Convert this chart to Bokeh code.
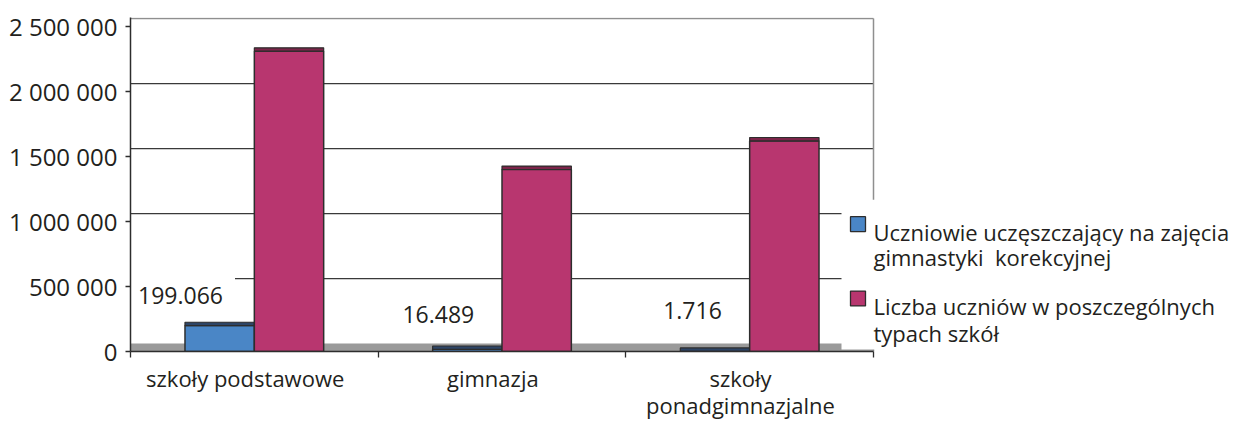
from bokeh.plotting import figure
from bokeh.models import Range1d, FixedTicker, Label
from bokeh.core.properties import value
from bokeh.embed import file_html
from bokeh.resources import INLINE

# ---- data ----
categories = ["szkoły podstawowe", "gimnazja", "szkoły\nponadgimnazjalne"]
korekcyjna = [199066, 16489, 1716]
liczba_uczniow = [2310000, 1400000, 1620000]
y_ticks = [0, 500000, 1000000, 1500000, 2000000, 2500000]
series_lines = [["Uczniowie uczęszczający na zajęcia", "gimnastyki\u00a0 korekcyjnej"],
                ["Liczba uczniów w poszczególnych", "typach szkół"]]

# ---- style / positions ----
FONT = "Open Sans"
TXT = "#231f20"
BLUE = "#4a86c6"
PINK = "#b8366f"
BLUE_CAP = "#2e4566"
PINK_CAP = "#7c2449"
EDGE = "#2d2d2d"
WALL = "#8f8f8f"
W, H = 1235, 423
LEFT, RIGHT_WALL, TOP, BOTTOM = 130, 873, 17, 354   # px
DEPTH = 61000          # 3D depth offset of back wall (value units)
CAP = 26000            # bar top face height (value units)
Y_END = 2569000
BAR_W = 0.28
LABEL_SHIFT = 0.037    # category labels slightly left of centre
label_pos_x = [0.202, 1.243, 2.269]
label_pos_y = [434000, 282000, 312000]
# legend layout in px
LEG_BOX = (841, 201, 352)            # left, top, bottom
LEG_SQ_X = (850, 865)
LEG_SQ_TOP = [218, 293]
LEG_SQ = 15
LEG_TXT_X = 873
LEG_BASELINES = [[233, 259], [308, 335]]

n = len(categories)
x_end = n * (W - LEFT) / (RIGHT_WALL - LEFT)


def px2x(px):
    return (px - LEFT) / (RIGHT_WALL - LEFT) * n


def px2y(py):
    return (BOTTOM - py) / (BOTTOM - TOP) * Y_END


p = figure(width=W, height=H,
           x_range=Range1d(0, x_end), y_range=Range1d(0, Y_END),
           output_backend="svg", toolbar_location=None,
           min_border_left=LEFT, min_border_right=0,
           min_border_top=TOP, min_border_bottom=H - BOTTOM)
p.xgrid.visible = False
p.ygrid.visible = False
p.outline_line_color = None
p.background_fill_color = "white"
p.border_fill_color = "white"

# floor
p.quad(left=[0], right=[n], bottom=[0], top=[DEPTH], fill_color="#9a9a9a",
       line_color=None, level="underlay")
# back-wall gridlines
grid_y = [v + DEPTH for v in y_ticks[1:-1]]
p.segment(x0=[0] * len(grid_y), x1=[n] * len(grid_y), y0=grid_y, y1=grid_y,
          line_color="#3a3a3a", line_width=1.3, level="underlay")
# top & right wall edges
top_y = y_ticks[-1] + DEPTH
p.segment(x0=[0, n], x1=[n, n], y0=[top_y, 0], y1=[top_y, top_y],
          line_color=WALL, line_width=1.5, level="underlay")
# legend background (covers wall/floor)
p.quad(left=[px2x(LEG_BOX[0])], right=[x_end], top=[px2y(LEG_BOX[1])],
       bottom=[px2y(LEG_BOX[2])], fill_color="white", line_color=None, level="underlay")

xb = [i + 0.5 - BAR_W / 2 for i in range(n)]
xp = [i + 0.5 + BAR_W / 2 for i in range(n)]

p.vbar(x=xb, top=korekcyjna, bottom=0, width=BAR_W, fill_color=BLUE,
       line_color=EDGE, line_width=1.5)
p.vbar(x=xb, bottom=korekcyjna, top=[v + CAP for v in korekcyjna], width=BAR_W,
       fill_color=BLUE_CAP, line_color=EDGE, line_width=1.2)
p.vbar(x=xp, top=liczba_uczniow, bottom=0, width=BAR_W, fill_color=PINK,
       line_color=EDGE, line_width=1.5)
p.vbar(x=xp, bottom=liczba_uczniow, top=[v + CAP for v in liczba_uczniow], width=BAR_W,
       fill_color=PINK_CAP, line_color=EDGE, line_width=1.2)

# legend
for color, sq_top, lines, bases in zip([BLUE, PINK], LEG_SQ_TOP, series_lines, LEG_BASELINES):
    p.quad(left=[px2x(LEG_SQ_X[0])], right=[px2x(LEG_SQ_X[1])], top=[px2y(sq_top)],
           bottom=[px2y(sq_top + LEG_SQ)], fill_color=color, line_color=EDGE, line_width=1.3)
    p.text(x=[px2x(LEG_TXT_X)] * len(lines), y=[px2y(b) for b in bases], text=lines,
           text_font=value(FONT), text_font_size="22px", text_color=TXT,
           text_baseline="alphabetic", text_align="left")

# data labels
for x, y, v in zip(label_pos_x, label_pos_y, korekcyjna):
    p.add_layout(Label(x=x, y=y, text=f"{v:,}".replace(",", "."), text_align="center",
                       text_baseline="middle", text_font=FONT, text_font_size="23px",
                       text_color=TXT, background_fill_color="white",
                       background_fill_alpha=1, padding=12, level="glyph"))

# axes
label_ticks = [i + 0.5 - LABEL_SHIFT for i in range(n)]
xa = p.xaxis[0]
xa.bounds = (0, n)
xa.ticker = FixedTicker(ticks=label_ticks, minor_ticks=list(range(n + 1)))
xa.major_label_overrides = {t: c for t, c in zip(label_ticks, categories)}
xa.major_tick_out = 0
xa.major_tick_in = 0
xa.minor_tick_out = 6
xa.minor_tick_in = 0
xa.minor_tick_line_color = EDGE
xa.minor_tick_line_width = 1.3
xa.axis_line_color = EDGE
xa.axis_line_width = 1.5
xa.major_label_text_font = FONT
xa.major_label_text_font_size = "22px"
xa.major_label_text_color = TXT
xa.major_label_text_line_height = 0.93
xa.major_label_standoff = 5

ya = p.yaxis[0]
ya.ticker = FixedTicker(ticks=y_ticks, minor_ticks=[])
ya.major_label_overrides = {v: f"{v:,}".replace(",", " ") for v in y_ticks}
ya.major_tick_out = 5
ya.major_tick_in = 0
ya.major_tick_line_color = EDGE
ya.major_tick_line_width = 1.3
ya.axis_line_color = EDGE
ya.axis_line_width = 1.5
ya.major_label_text_font = FONT
ya.major_label_text_font_size = "24px"
ya.major_label_text_color = TXT
ya.major_label_standoff = 8

open("out.html", "w").write(file_html(p, INLINE))
